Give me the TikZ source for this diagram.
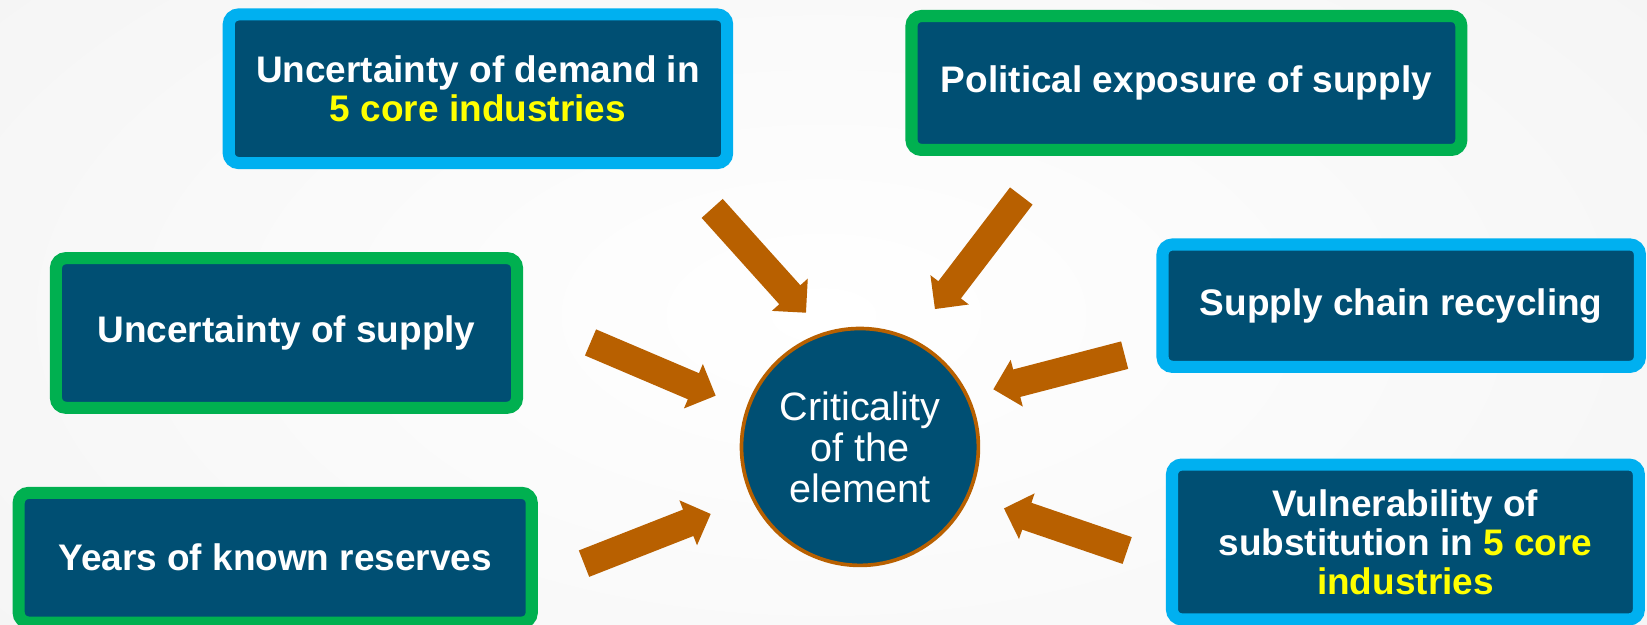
\documentclass[tikz,border=0pt]{standalone}
\usepackage{fontspec}
\setmainfont{Liberation Sans}
\usetikzlibrary{calc}

\definecolor{boxfill}{RGB}{0,79,115}
\definecolor{edgecyan}{RGB}{0,176,240}
\definecolor{edgegreen}{RGB}{0,176,80}
\definecolor{hlyellow}{RGB}{255,255,0}
\definecolor{arrowbrown}{RGB}{184,96,0}
\definecolor{bggray}{RGB}{245,245,245}

\newcommand\yel[1]{\textcolor{hlyellow}{#1}}

% block arrow from tail coordinate #1 to tip coordinate #2
\newcommand\fatarrow[2]{%
  \path ($(#2)!23pt!(#1)$) coordinate (fa-base);
  \fill[arrowbrown]
    ($(#1)!13.5pt!90:(#2)$) -- ($(fa-base)!13.5pt!90:(#2)$) --
    ($(fa-base)!23pt!90:(#2)$) -- (#2) --
    ($(fa-base)!23pt!-90:(#2)$) -- ($(fa-base)!13.5pt!-90:(#2)$) --
    ($(#1)!13.5pt!-90:(#2)$) -- cycle;
}

\begin{document}
\begin{tikzpicture}[x=1pt,y=-1pt,
  card/.style={draw, line width=11.5pt, rounded corners=9.5pt, fill=boxfill,
    text=white, font=\bfseries\fontsize{35.2}{37}\selectfont, align=center,
    inner sep=0pt},
  cyancard/.style={card, draw=edgecyan},
  greencard/.style={card, draw=edgegreen},
  hub/.style={circle, draw=arrowbrown, line width=3.5pt, fill=boxfill,
    text=white, font=\fontsize{37.7}{39}\selectfont, align=center,
    inner sep=0pt, minimum size=225.5pt},
]
\useasboundingbox (0,0) rectangle (1568,595);
\clip (0,0) rectangle (1568,595);

% soft background
\fill[bggray] (0,0) rectangle (1568,595);
\shade[inner color=white, outer color=bggray] (784,300) ellipse [x radius=1000, y radius=520];

% factor boxes
\node[cyancard, minimum width=474.5pt, minimum height=141.5pt] (dem) at (455,84.5)
  {Uncertainty of demand in\\\yel{5 core industries}};
\node[greencard, minimum width=523.5pt, minimum height=127.5pt] (pol) at (1129.5,79)
  {Political exposure of supply};
\node[greencard, minimum width=439pt, minimum height=142.5pt] (sup) at (272.75,317)
  {Uncertainty of supply};
\node[cyancard, minimum width=454.5pt, minimum height=116.5pt] (rec) at (1334,291)
  {Supply chain recycling};
\node[greencard, minimum width=488.5pt, minimum height=123.5pt] (res) at (262,531)
  {Years of known reserves};
\node[cyancard, minimum width=444.5pt, minimum height=147.5pt] (sub) at (1338,516)
  {Vulnerability of\\substitution in \yel{5 core}\\\yel{industries}};

% central element
\node[hub] (crit) at (818.7,425.5) {Criticality\\of the\\element};

% arrow ends
\coordinate (dem-t) at (678,198.4);    \coordinate (dem-h) at (767.3,297.7);
\coordinate (pol-t) at (972.3,186.6);  \coordinate (pol-h) at (890.1,294.2);
\coordinate (sup-t) at (562.2,326);    \coordinate (sup-h) at (681.3,376.7);
\coordinate (res-t) at (556,536.6);    \coordinate (res-h) at (676.6,489.3);
\coordinate (rec-t) at (1070.7,338.1); \coordinate (rec-h) at (945.7,370.6);
\coordinate (sub-t) at (1073.1,524.1); \coordinate (sub-h) at (955.8,484);

\fatarrow{dem-t}{dem-h}
\fatarrow{pol-t}{pol-h}
\fatarrow{sup-t}{sup-h}
\fatarrow{res-t}{res-h}
\fatarrow{rec-t}{rec-h}
\fatarrow{sub-t}{sub-h}
\end{tikzpicture}
\end{document}
